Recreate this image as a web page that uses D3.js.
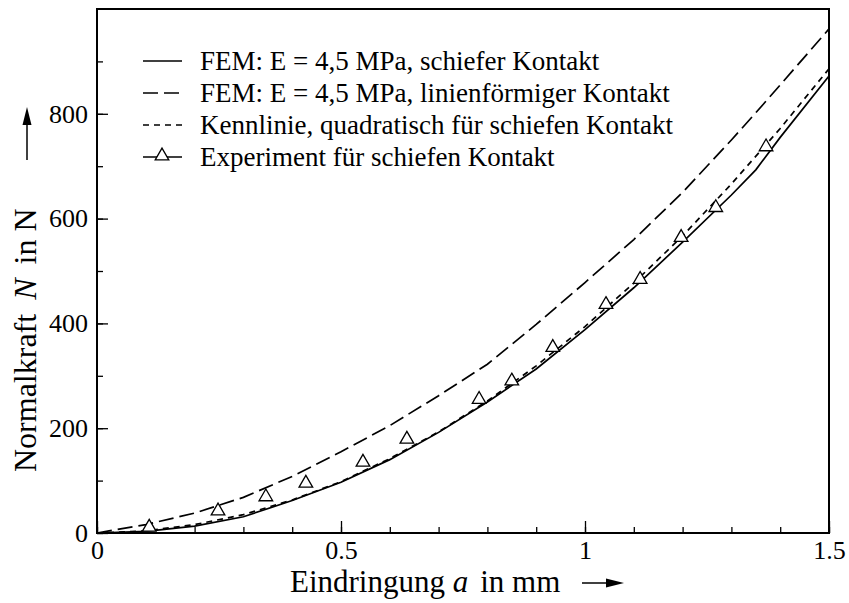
<!DOCTYPE html>
<html lang="de">
<head>
<meta charset="UTF-8">
<title>Normalkraft über Eindringung</title>
<script src="https://d3js.org/d3.v7.min.js"></script>
<style>
  body { margin: 0; background: #fff; }
  svg text { font-family: "Liberation Serif", "Times New Roman", serif; fill: #000; }
</style>
</head>
<body>
<div id="chart"></div>
<script>
// x values (mm) for the curves
const xGrid = [0, 0.1, 0.2, 0.3, 0.4, 0.5, 0.6, 0.7, 0.8, 0.9, 1.0, 1.1, 1.2, 1.3, 1.35, 1.4, 1.5];
// FEM, schiefer Kontakt
const femSchief = [0, 3, 13, 31, 62, 97, 140, 192, 250, 313, 388, 468, 555, 645, 693, 755, 872];
// FEM, linienförmiger Kontakt
const femLinie = [0, 16, 38, 68, 108, 155, 205, 262, 322, 398, 478, 560, 650, 750, 802, 855, 962];
// Kennlinie, quadratisch
const kennX = [0, 0.1, 0.2, 0.3, 0.4, 0.5, 0.6, 0.7, 0.8, 0.9, 1.0, 1.1, 1.2, 1.3, 1.4, 1.5];
const kennY = [0, 4, 16, 35, 63, 98, 142, 193, 252, 319, 394, 477, 567, 666, 772, 886];
// Experiment
const expX = [0.107, 0.248, 0.346, 0.428, 0.545, 0.635, 0.783, 0.850, 0.934, 1.043, 1.113, 1.197, 1.268, 1.371];
const expY = [11, 42, 69, 95, 135, 179, 255, 290, 354, 436, 484, 564, 621, 737];

const xMajor = [0, 0.5, 1, 1.5];
const xMajorLabels = ["0", "0.5", "1", "1.5"];
const yMajor = [0, 200, 400, 600, 800];
const legendLabels = [
  "FEM: E = 4,5 MPa, schiefer Kontakt",
  "FEM: E = 4,5 MPa, linienförmiger Kontakt",
  "Kennlinie, quadratisch für schiefen Kontakt",
  "Experiment für schiefen Kontakt"
];

const W = 849, H = 603;
const m = { left: 97, right: 20, top: 9, bottom: 70 };

const svg = d3.select("#chart").append("svg")
  .attr("width", W).attr("height", H);

const x = d3.scaleLinear().domain([0, 1.5]).range([m.left, W - m.right]);
const y = d3.scaleLinear().domain([0, 1000]).range([H - m.bottom, m.top]);

// minor ticks
const xMinor = d3.range(0, 1.5001, 0.1).map(v => +v.toFixed(2));
const yMinor = d3.range(0, 1000, 100);

const serif = "'Liberation Serif', 'Times New Roman', serif";

svg.append("g")
  .attr("transform", `translate(0,${y(0)})`)
  .call(d3.axisBottom(x).tickValues(xMinor).tickSize(-6).tickFormat(""))
  .call(g => g.select(".domain").remove())
  .call(g => g.selectAll("line").attr("stroke-width", 1.3));
svg.append("g")
  .attr("transform", `translate(0,${y(0)})`)
  .call(d3.axisBottom(x).tickValues(xMajor).tickSize(-12).tickPadding(8)
    .tickFormat((d, i) => xMajorLabels[i]))
  .call(g => g.select(".domain").remove())
  .call(g => g.selectAll("line").attr("stroke-width", 1.3))
  .call(g => g.selectAll("text").style("font-size", "26px").style("font-family", serif));

svg.append("g")
  .attr("transform", `translate(${x(0)},0)`)
  .call(d3.axisLeft(y).tickValues(yMinor).tickSize(-6).tickFormat(""))
  .call(g => g.select(".domain").remove())
  .call(g => g.selectAll("line").attr("stroke-width", 1.3));
svg.append("g")
  .attr("transform", `translate(${x(0)},0)`)
  .call(d3.axisLeft(y).tickValues(yMajor).tickSize(-11).tickPadding(9))
  .call(g => g.select(".domain").remove())
  .call(g => g.selectAll("line").attr("stroke-width", 1.3))
  .call(g => g.selectAll("text").style("font-size", "26px").style("font-family", serif));

// frame
svg.append("rect")
  .attr("x", x(0)).attr("y", y(1000))
  .attr("width", x(1.5) - x(0)).attr("height", y(0) - y(1000))
  .attr("fill", "none").attr("stroke", "#000").attr("stroke-width", 2);

const line = d3.line().x(d => x(d[0])).y(d => y(d[1]));

const plot = svg.append("g");
plot.append("path")
  .datum(xGrid.map((v, i) => [v, femSchief[i]]))
  .attr("d", line).attr("fill", "none").attr("stroke", "#000").attr("stroke-width", 1.7);
plot.append("path")
  .datum(xGrid.map((v, i) => [v, femLinie[i]]))
  .attr("d", line).attr("fill", "none").attr("stroke", "#000").attr("stroke-width", 1.7)
  .attr("stroke-dasharray", "15,6");
plot.append("path")
  .datum(kennX.map((v, i) => [v, kennY[i]]))
  .attr("d", line).attr("fill", "none").attr("stroke", "#000").attr("stroke-width", 1.7)
  .attr("stroke-dasharray", "6,5");

const tri = d3.symbol().type(d3.symbolTriangle).size(80);
plot.selectAll(".exp")
  .data(expX.map((v, i) => [v, expY[i]]))
  .enter().append("path")
  .attr("class", "exp")
  .attr("transform", d => `translate(${x(d[0])},${y(d[1])})`)
  .attr("d", tri)
  .attr("fill", "#fff").attr("stroke", "#000").attr("stroke-width", 1.3);

// legend
const leg = svg.append("g");
const dashes = [null, "15,6", "6,5", null];
legendLabels.forEach((t, i) => {
  const ly = 61 + i * 32;
  leg.append("line")
    .attr("x1", 143).attr("x2", 182).attr("y1", ly).attr("y2", ly)
    .attr("stroke", "#000").attr("stroke-width", i === 3 ? 1.3 : 1.7)
    .attr("stroke-dasharray", dashes[i]);
  if (i === 3) {
    leg.append("path").attr("transform", `translate(162,${ly - 1})`)
      .attr("d", tri).attr("fill", "#fff").attr("stroke", "#000").attr("stroke-width", 1.3);
  }
  leg.append("text").attr("x", 200).attr("y", ly + 9)
    .style("font-size", "27px").text(t);
});

// axis titles
const xt = svg.append("text").attr("x", 290).attr("y", 592).style("font-size", "31px");
xt.append("tspan").text("Eindringung ");
xt.append("tspan").style("font-style", "italic").text("a");
xt.append("tspan").attr("dx", 12).text("in mm");
svg.append("line").attr("x1", 582).attr("x2", 612).attr("y1", 583).attr("y2", 583)
  .attr("stroke", "#000").attr("stroke-width", 1.5);
svg.append("path").attr("d", "M624,583 L606,578.5 L606,587.5 Z").attr("fill", "#000");

const yt = svg.append("text")
  .attr("transform", "translate(36,472) rotate(-90)")
  .style("font-size", "32px");
yt.append("tspan").text("Normalkraft");
yt.append("tspan").attr("dx", 14).style("font-style", "italic").text("N");
yt.append("tspan").attr("dx", 14).text("in N");
svg.append("line").attr("x1", 27).attr("x2", 27).attr("y1", 160).attr("y2", 120)
  .attr("stroke", "#000").attr("stroke-width", 1.5);
svg.append("path").attr("d", "M27,107 L22.5,125 L31.5,125 Z").attr("fill", "#000");
</script>
</body>
</html>
